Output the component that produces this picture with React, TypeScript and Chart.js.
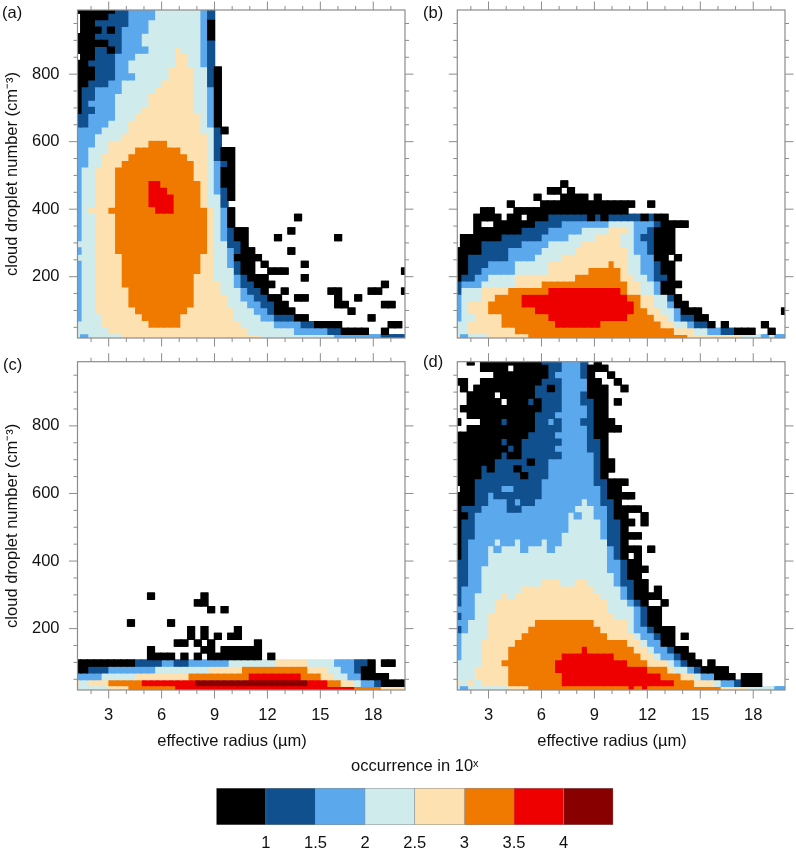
import React, { useEffect, useRef } from "react";
import { Chart, registerables } from "chart.js";

Chart.register(...registerables);

// occurrence classes (lower edge .. upper edge of log10 occurrence) and colours
const levelCodes = ["k", "n", "b", "c", "y", "o", "r", "d"];
const levelColors = ["#000000", "#11508f", "#5ba9ec", "#cfebec", "#fde1b0", "#f07a00", "#ee0000", "#880000"];
const colorbarEdges = [0.5, 1, 1.5, 2, 2.5, 3, 3.5, 4, 4.5];
const colorbarTicks = [1, 1.5, 2, 2.5, 3, 3.5, 4];

// Grid: columns = effective radius bin centres, rows = droplet number bin centres (top to bottom)
const radiusFirst = 1.231;
const radiusLast = 19.8;
const numberTop = 990;
const numberBottom = 18.4;
const columnCount = 50;
const rowCount = 50;
const radiusStep = (radiusLast - radiusFirst) / (columnCount - 1);
const numberStep = (numberTop - numberBottom) / (rowCount - 1);

// Each row: code + cumulative end column; w = empty
const panelA = [
  "k6 n8 b12 c19 b20 n21",
  "w1 k5 n8 b12 c19 b20 n21",
  "w1 k3 n8 b11 c19 b20 k21",
  "w1 k4 n5 k6 n7 b11 c19 b20 k21",
  "k3 n7 b10 c19 b20 k21",
  "k5 n7 b10 c19 b20 n21",
  "k3 n5 k6 n7 b11 c15 y16 c19 b20 n21",
  "w1 k3 n6 b9 c15 y17 c19 b20 n21",
  "k2 n6 b8 c15 y17 c19 b20 n21",
  "k3 n6 b8 c14 y18 c20 n21 k22",
  "k3 n6 b9 c14 y18 c20 n21 k22",
  "k2 n5 b7 c13 y18 c20 n21 k22",
  "k1 n3 b7 c12 y18 c20 b21 k22",
  "k1 n3 b6 c11 y18 c20 b21 k22",
  "k1 n2 b6 c11 y18 c20 b21 k22",
  "k1 n3 b6 c10 y18 c20 b21 k22",
  "n2 b6 c9 y19 c20 b21 k22",
  "n2 b5 c8 y19 c20 b21 k22",
  "b4 c8 y19 c21 n22 k23",
  "b3 c7 y20 c21 n22",
  "b3 c5 y11 o14 y20 c21 n22",
  "b2 c5 y9 o16 y20 c21 n22 k24",
  "b2 c4 y8 o17 y20 c21 n22 k24",
  "b2 c4 y7 o18 y20 c21 b22 n23 k24",
  "b1 c3 y6 o18 y20 c21 b22 k24",
  "b1 c3 y6 o18 y20 c21 b22 k24",
  "b1 c3 y6 o11 r13 o19 y20 c21 b22 k24",
  "b1 c3 y6 o11 r14 o19 y20 c21 b22 n23 k24",
  "b1 c3 y6 o11 r15 o19 y20 c22 n23 k24",
  "b1 c3 y6 o11 r15 o19 y20 c22 n23",
  "b1 c2 y5 o12 r15 o20 y21 c22 b23 k24",
  "b1 c3 y6 o20 y21 c22 b23 k24 w33 k34",
  "b1 c3 y6 o20 y21 c22 b23 k24",
  "b1 c3 y6 o20 y21 c22 b23 n24 k26 w32 k33",
  "b1 c3 y6 o20 y21 c22 b23 n24 k26 w30 k31 w39 k40",
  "c3 y6 o20 y21 c23 n25 k26",
  "b1 c3 y6 o20 y21 c23 b24 n25 k27 w32 k33",
  "c3 y7 o19 y21 c23 b24 k28",
  "b1 c3 y7 o19 y21 c23 b24 n25 k27 w28 k29 w34 k35",
  "b1 c3 y7 o19 y21 c24 n25 k27 w29 k32 w49 k50",
  "b1 c3 y7 o18 y21 c24 b25 n26 k29 w34 k35",
  "b1 c3 y7 o18 y22 c24 b25 n27 k30 w46 k47",
  "b1 c3 y8 o18 y22 c25 b26 n28 k29 w31 k32 w38 k40 w44 k46 w49 k50",
  "b1 c3 y8 o18 y23 c25 b27 n29 k31 w33 k35 w39 k40 w42 k43",
  "b1 c3 y8 o18 y23 c26 b28 n30 k32 w39 k41 w46 k48",
  "b1 c3 y9 o17 y24 c27 b29 n30 k33 w41 k42",
  "b1 c4 y10 o16 y24 c28 b30 n33 k35 w44 k45",
  "c4 y11 o16 y25 c30 b34 n36 k40 w47 k49",
  "c5 y26 c33 b38 n40 k44 w46 k47",
  "c1 b2 c7 y28 c39 b46 n50",
];

const panelB = [
  "", "", "", "", "", "", "", "", "", "", "", "", "", "", "", "", "", "", "", "", "", "", "", "", "", "",
  "w16 k17",
  "w14 k16 w17 k18",
  "w12 k13 w16 k20 w21 k22",
  "w8 k9 w13 k27 w29 k30",
  "w4 k6 w9 k26",
  "w3 k7 w8 k10 w11 k14 n20 k21 n22 k23 n28 k29 n30 k32",
  "w3 k4 w6 k12 n16 b23 c27 b30 n31 k35",
  "w3 k10 n14 b19 c23 y26 c27 b29 n30 k33",
  "w1 k7 n13 b17 c21 y25 c27 b28 n30 k33",
  "w1 k4 n10 b14 c19 y25 c27 b29 n30 k33",
  "k4 n8 b13 c18 y26 c27 b29 n30 k33",
  "k2 n8 b12 c16 y26 c28 b30 k32 w33 k34",
  "k2 n5 b9 c14 y23 o24 y26 c28 b30 n31 k33",
  "k2 n4 b9 c14 y20 o25 y26 c28 b30 n31 k33",
  "k1 n3 b5 c9 y18 o25 y27 c29 b30 n32 k33",
  "n1 b4 c9 y13 o26 y28 c30 b31 k34",
  "n1 c4 y8 o14 r25 o26 y28 c30 b31 k33",
  "b1 c4 y6 o10 r26 o28 y30 c32 n33 k34",
  "b1 c2 y5 o10 r27 o28 y30 c32 b33 k35",
  "b1 c2 y5 o12 r27 o29 y31 c33 b34 k37 w49 k50",
  "b1 c3 y7 o14 r26 o30 y32 c33 b34 n36 k38",
  "c2 y7 o15 r22 o31 y33 c35 b36 n38 k39 w40 k41 w46 k47",
  "c2 y9 o33 y36 c38 b40 n42 k45 w47 k48",
  "y1 b2 c5 y11 o35 y43 c46 b47 c48 b50",
];

const panelC = [
  "", "", "", "", "", "", "", "", "", "", "", "", "", "", "", "", "", "", "", "", "", "", "", "", "", "", "", "", "", "", "", "", "", "", "",
  "w11 k12 w19 k20",
  "w18 k20",
  "w20 k21 w22 k23",
  "",
  "w8 k9 w14 k15",
  "w17 k18 w19 k20 w24 k25",
  "w17 k18 w19 k20 w21 k22 w23 k25",
  "w15 k17 w18 k19 w20 k21 w27 k28",
  "w11 k12 w19 k21 w22 k28",
  "w11 k15 w16 k17 w18 k19 w20 k28 w29 k30",
  "k9 n13 b15 n17 b23 c30 y35 c39 b42 n44 k45 w46 k48",
  "k2 n5 b12 c20 y25 o35 y38 c40 b42 n43 k45",
  "b4 c9 y17 o26 r34 o37 y39 c41 b43 k47",
  "y1 c2 y5 o10 r18 d35 r38 o40 y42 c43 b45 n46 k50",
  "c5 y8 o15 r42 o46 y50",
];

const panelD = [
  "w2 k3 w4 k13 n16 b19 n20 w21 k22",
  "w4 k8 w9 k14 n16 b19 n20 k23",
  "w6 k14 n15 b19 n20 k21 w23 k24",
  "k2 w4 k13 n16 b20 k22 w24 k25",
  "w1 k2 w3 k12 n14 k15 n16 b20 k23 w25 k26",
  "w2 k6 w7 k12 n16 b19 n20 k23",
  "w2 k7 w8 k11 n12 k13 n16 b19 n21 k23 w24 k25",
  "w1 k13 n16 b20 n21 k23",
  "w2 k12 n15 b20 n21 k23",
  "k1 w4 k7 n8 k12 n14 b15 n16 b19 n21 k24",
  "w2 k12 n16 b20 n21 k25",
  "k11 n15 b20 n21 k23",
  "k7 n8 k10 n16 b20 n22 k23",
  "k8 n9 k10 n15 b20 n22 k23",
  "k7 n8 k10 n16 b21 n22 k23",
  "k6 n11 k12 n14 b21 n22 k24",
  "k4 n5 k6 n9 k10 n14 b21 n22 k24",
  "k4 n10 k11 n14 b21 n22 k23",
  "k3 n13 b21 n23 k26",
  "w1 k3 n7 b9 n13 b22 n23 k25",
  "k3 n5 b6 n13 b22 n23 k27",
  "k3 n5 b8 n9 b10 n12 b19 c20 b22 n24 k25",
  "k1 n4 b8 n10 b18 c21 b23 n24 k28",
  "k2 n3 b17 c18 b19 c21 b23 n24 k26 w28 k29",
  "k1 n3 b17 c22 b23 n25 k27 w28 k29",
  "k1 n3 b17 c22 b23 n25 k26",
  "k1 n3 b16 c22 b23 n25 k28",
  "k1 n2 b6 c7 b9 c10 b13 c14 b16 c23 n25 k26",
  "k1 n2 b5 c6 b7 c10 b11 c14 b15 c23 b24 n25 k28 w29 k30",
  "k1 n2 b5 c23 b24 n25 k26 w27 k28",
  "n2 b5 c23 b25 n26 k28",
  "n2 b4 c23 b25 n26 k29",
  "n2 b4 c24 b25 n26 k28",
  "n2 b4 c13 y16 c18 y20 c24 b25 n27 k29",
  "n1 b4 c10 y21 c25 b26 n27 k29 w30 k31",
  "n1 b3 c7 y8 c9 y22 c25 b26 n27 k31",
  "n1 b3 c6 y23 c26 b27 n28 k29 w31 k32",
  "b3 c6 y23 c27 b28 n29 k31",
  "n1 b3 c5 y24 c27 b28 n29 k31",
  "b2 c5 y12 o21 y26 c27 b28 n29 k31",
  "n1 b2 c5 y11 o22 y26 c27 b29 n30 k33",
  "b1 c5 y10 o23 y27 c28 b30 n31 k33 w34 k35",
  "b1 c4 y9 o26 y28 c29 b31 k33",
  "b1 c4 y8 o19 r20 o27 y29 c30 b32 n33 k35",
  "b1 c4 y8 o16 r24 o28 y30 c31 b33 n34 k36",
  "c4 y7 o15 r26 o29 y32 c33 b34 n35 k37 w38 k39",
  "c3 y8 o15 r29 o32 y33 c35 b36 n37 k41",
  "c3 y8 o16 r31 o34 y36 c37 b39 k42 w43 k46",
  "y1 c2 y3 c4 y8 o16 r33 o36 y39 c40 b42 n43 k46",
  "c1 b2 c8 y11 o26 r27 o28 r29 o40 y44 c48 b50",
];

const radiusTicks = [3, 6, 9, 12, 15, 18];
const numberTicks = [200, 400, 600, 800];
const radiusMinor = [2, 4, 5, 7, 8, 10, 11, 13, 14, 16, 17, 19];
const numberMinor = [50, 100, 150, 250, 300, 350, 450, 500, 550, 650, 700, 750, 850, 900, 950];

const FONT = "'Liberation Sans', Arial, sans-serif";
const FONT_SIZE = 16.5;
const GREY = "#8c8c8c";

function decodeRow(row: string): number[] {
  const cells: number[] = new Array(columnCount).fill(-1);
  let from = 0;
  for (const tok of row.split(" ").filter(Boolean)) {
    const lvl = levelCodes.indexOf(tok[0]);
    const end = parseInt(tok.slice(1), 10);
    for (let i = from; i < end; i++) cells[i] = lvl;
    from = end;
  }
  return cells;
}

function buildDatasets(rows: string[]) {
  const grid = rows.map(decodeRow);
  const sets = levelColors.map((c) => ({
    data: [] as { x: number; y: [number, number] }[],
    backgroundColor: c,
    borderWidth: 0,
    barPercentage: 1,
    categoryPercentage: 1,
    grouped: false,
  }));
  for (let col = 0; col < columnCount; col++) {
    const x = radiusFirst + radiusStep * col;
    let r = 0;
    while (r < grid.length) {
      const lvl = grid[r][col];
      let e = r;
      while (e + 1 < grid.length && grid[e + 1][col] === lvl) e++;
      if (lvl >= 0) {
        const hi = numberTop - numberStep * (r - 0.5);
        const lo = numberTop - numberStep * (e + 0.5);
        sets[lvl].data.push({ x, y: [lo, hi] });
      }
      r = e + 1;
    }
  }
  // a slightly wider underlay closes the hairline seams between neighbouring columns
  const underlay = sets.map((s) => ({ ...s, barPercentage: 1.14, inflateAmount: 0.3 }));
  return [...underlay, ...sets];
}

type PanelSpec = {
  rows: string[];
  label: string;
  labelX: number;
  labelY: number;
  left: number;
  top: number;
  width: number;
  height: number;
  padTop: number;
  padRight: number;
  axisLeft: number;
  axisBottom: number;
  showYLabels: boolean;
  showXLabels: boolean;
};

const framePlugin = {
  id: "panelFrame",
  afterDraw(chart: any, _a: any, opts: any) {
    const { ctx, chartArea: a, scales } = chart;
    const { x, y } = scales;
    ctx.save();
    ctx.strokeStyle = GREY;
    ctx.lineWidth = 1;
    const line = (x0: number, y0: number, x1: number, y1: number) => {
      ctx.beginPath();
      ctx.moveTo(x0, y0);
      ctx.lineTo(x1, y1);
      ctx.stroke();
    };
    const doX = (vals: number[], len: number) =>
      vals.forEach((v) => {
        const p = x.getPixelForValue(v);
        line(p, a.bottom, p, a.bottom + len);
        line(p, a.top, p, a.top - len);
      });
    const doY = (vals: number[], len: number) =>
      vals.forEach((v) => {
        const p = y.getPixelForValue(v);
        line(a.left, p, a.left - len, p);
        line(a.right, p, a.right + len, p);
      });
    doX(radiusTicks, 8.5);
    doX(radiusMinor, 4);
    doY(numberTicks, 8.5);
    doY(numberMinor, 4);
    ctx.lineWidth = 1.2;
    ctx.strokeRect(a.left, a.top, a.right - a.left, a.bottom - a.top);
    ctx.fillStyle = "#111";
    ctx.font = `${FONT_SIZE}px ${FONT}`;
    ctx.textAlign = "left";
    ctx.textBaseline = "middle";
    ctx.fillText(opts.label, opts.x, opts.y);
    ctx.restore();
  },
};

const panels: PanelSpec[] = [
  { rows: panelA, label: "(a)", labelX: 2, labelY: 13, left: 0, top: 0, width: 425, height: 352, padTop: 10, padRight: 20, axisLeft: 77.5, axisBottom: 14, showYLabels: true, showXLabels: false },
  { rows: panelB, label: "(b)", labelX: 8, labelY: 13, left: 415, top: 0, width: 381, height: 352, padTop: 10, padRight: 11, axisLeft: 42.3, axisBottom: 14, showYLabels: false, showXLabels: false },
  { rows: panelC, label: "(c)", labelX: 3, labelY: 15, left: 0, top: 350, width: 425, height: 402, padTop: 11.7, padRight: 20, axisLeft: 77.5, axisBottom: 62, showYLabels: true, showXLabels: true },
  { rows: panelD, label: "(d)", labelX: 8, labelY: 12, left: 415, top: 350, width: 381, height: 402, padTop: 11.7, padRight: 11, axisLeft: 42.3, axisBottom: 62, showYLabels: false, showXLabels: true },
];

const noBoxPadding = (s: any) => {
  s.paddingTop = 0;
  s.paddingBottom = 0;
  s.paddingLeft = 0;
  s.paddingRight = 0;
};

function makePanel(canvas: HTMLCanvasElement, p: PanelSpec) {
  return new Chart(canvas, {
    type: "bar",
    data: { datasets: buildDatasets(p.rows) as any },
    plugins: [framePlugin],
    options: {
      responsive: false,
      animation: false,
      layout: { padding: { top: p.padTop, right: p.padRight, left: 0, bottom: 0 } },
      plugins: {
        legend: { display: false },
        tooltip: { enabled: false },
        panelFrame: { label: p.label, x: p.labelX, y: p.labelY },
      } as any,
      scales: {
        x: {
          type: "linear",
          offset: false,
          min: radiusFirst,
          max: radiusLast,
          afterBuildTicks: (s: any) => { s.ticks = radiusTicks.map((value) => ({ value })); },
          afterFit: (s: any) => { s.height = p.axisBottom; noBoxPadding(s); },
          grid: { display: false, offset: false, tickLength: 8.5 },
          border: { display: false },
          ticks: {
            display: p.showXLabels,
            autoSkip: false,
            maxRotation: 0,
            padding: 7.5,
            color: "#111",
            font: { family: FONT, size: FONT_SIZE },
            callback: (v: any) => String(v),
          },
          title: {
            display: p.showXLabels,
            text: "effective radius (µm)    ",
            color: "#111",
            font: { family: FONT, size: FONT_SIZE },
            padding: { top: 0, bottom: 1 },
          },
        },
        y: {
          type: "linear",
          min: numberBottom,
          max: numberTop,
          afterBuildTicks: (s: any) => { s.ticks = numberTicks.map((value) => ({ value })); },
          afterFit: (s: any) => { s.width = p.axisLeft; noBoxPadding(s); },
          grid: { display: false, tickLength: 8.5 },
          border: { display: false },
          ticks: {
            display: p.showYLabels,
            autoSkip: false,
            padding: 9.5,
            color: "#111",
            font: { family: FONT, size: FONT_SIZE },
            callback: (v: any) => String(v),
          },
          title: {
            display: p.showYLabels,
            text: "cloud droplet number (cm⁻³)",
            color: "#111",
            font: { family: FONT, size: FONT_SIZE },
            padding: { top: 3, bottom: 0 },
          },
        },
      },
    } as any,
  });
}

function makeColorbar(canvas: HTMLCanvasElement) {
  return new Chart(canvas, {
    type: "bar",
    data: {
      labels: [""],
      datasets: levelColors.map((c, i) => ({
        data: [[colorbarEdges[i], colorbarEdges[i + 1]]],
        backgroundColor: c,
        borderColor: "#8a8a8a",
        borderWidth: 0.8,
        barPercentage: 1,
        categoryPercentage: 1,
        grouped: false,
      })) as any,
    },
    options: {
      indexAxis: "y",
      responsive: false,
      animation: false,
      layout: { padding: { left: 16.3, right: 12.7, top: 0, bottom: 0 } },
      plugins: {
        legend: { display: false },
        tooltip: { enabled: false },
        title: {
          display: true,
          text: "occurrence in 10ˣ",
          color: "#111",
          font: { family: FONT, size: FONT_SIZE, weight: "normal", lineHeight: 1.2 },
          padding: { top: 7, bottom: 11.2 },
        },
      },
      scales: {
        x: {
          type: "linear",
          offset: false,
          min: colorbarEdges[0],
          max: colorbarEdges[colorbarEdges.length - 1],
          afterBuildTicks: (s: any) => { s.ticks = colorbarTicks.map((value) => ({ value })); },
          afterFit: (s: any) => { s.height = 23; noBoxPadding(s); },
          grid: { display: false, drawTicks: false },
          border: { display: false },
          ticks: {
            autoSkip: false,
            maxRotation: 0,
            padding: 9,
            color: "#111",
            font: { family: FONT, size: FONT_SIZE },
            callback: (v: any) => String(v),
          },
        },
        y: { display: false },
      },
    } as any,
  });
}

export default function App() {
  const refs = useRef<(HTMLCanvasElement | null)[]>([]);
  const barRef = useRef<HTMLCanvasElement | null>(null);
  useEffect(() => {
    const charts = panels.map((p, i) => makePanel(refs.current[i]!, p));
    charts.push(makeColorbar(barRef.current!));
    return () => charts.forEach((c) => c.destroy());
  }, []);
  return (
    <div style={{ position: "absolute", left: 0, top: 0, width: 796, height: 848, overflow: "hidden", background: "#fff" }}>
      {panels.map((p, i) => (
        <canvas
          key={p.label}
          ref={(el) => { refs.current[i] = el; }}
          width={p.width}
          height={p.height}
          style={{ position: "absolute", left: p.left, top: p.top, width: p.width, height: p.height }}
        />
      ))}
      <canvas
        ref={barRef}
        width={426}
        height={98}
        style={{ position: "absolute", left: 200, top: 750, width: 426, height: 98 }}
      />
    </div>
  );
}
